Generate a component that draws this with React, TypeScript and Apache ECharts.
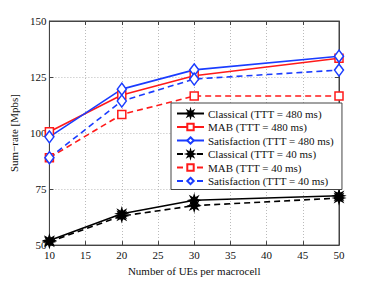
import React, { useEffect, useRef } from "react";
import * as echarts from "echarts";

const xValues = [10, 20, 30, 50];
const classical480 = [52, 64, 70, 72];
const mab480 = [100.6, 117, 125.6, 133.4];
const sat480 = [98.3, 119.6, 128.2, 134.3];
const classical40 = [51.5, 63, 67.6, 71];
const mab40 = [89, 108.3, 116.5, 116.5];
const sat40 = [89, 114.3, 124.1, 128.1];
const seriesNames = [
  "Classical (TTT = 480 ms)",
  "MAB (TTT = 480 ms)",
  "Satisfaction (TTT = 480 ms)",
  "Classical (TTT = 40 ms)",
  "MAB (TTT = 40 ms)",
  "Satisfaction (TTT = 40 ms)",
];

function starPath(): string {
  const pts: string[] = [];
  const n = 8;
  for (let i = 0; i < n * 2; i++) {
    const r = i % 2 === 0 ? 10 : 4.5;
    const a = (Math.PI * i) / n - Math.PI / 2;
    pts.push(`${(10 + r * Math.cos(a)).toFixed(2)} ${(10 + r * Math.sin(a)).toFixed(2)}`);
  }
  return "path://M" + pts.join(" L") + " Z";
}

export default function App() {
  const ref = useRef<HTMLDivElement>(null);
  useEffect(() => {
    if (!ref.current) return;
    const chart = echarts.init(ref.current, undefined, { renderer: "svg" });
    const star = starPath();
    const font = "'Liberation Serif', 'Times New Roman', serif";
    const mk = (
      name: string,
      data: number[],
      color: string,
      dashed: boolean,
      symbol: string,
      size: number | number[]
    ) => ({
      name,
      type: "line",
      data: xValues.map((x, i) => [x, data[i]]),
      symbol,
      symbolSize: size,
      showSymbol: true,
      lineStyle: { color, width: 1.6, type: dashed ? [6, 4] : "solid" },
      itemStyle: {
        color: symbol === star ? color : "#fff",
        borderColor: color,
        borderWidth: 1.5,
      },
      z: 3,
    });
    chart.setOption({
      animation: false,
      backgroundColor: "#fff",
      textStyle: { fontFamily: font },
      grid: {
        left: 49,
        right: 35,
        top: 21,
        bottom: 32,
        show: true,
        borderColor: "#444",
        borderWidth: 1,
      },
      legend: {
        data: seriesNames,
        orient: "vertical",
        left: 171,
        top: 103,
        width: 168,
        itemWidth: 27,
        itemHeight: 8,
        itemGap: 2.5,
        backgroundColor: "#fff",
        borderColor: "#444",
        borderWidth: 1,
        borderRadius: 0,
        padding: [5, 8, 3, 5],
        textStyle: { fontFamily: font, fontSize: 11, color: "#111", padding: [0, 0, 0, -1] },
      },
      xAxis: [
        {
          type: "value",
          min: 10,
          max: 50,
          interval: 5,
          name: "Number of UEs per macrocell",
          nameLocation: "middle",
          nameGap: 17,
          nameTextStyle: { fontFamily: font, fontSize: 11, color: "#111" },
          axisLine: { show: true, lineStyle: { color: "#444" } },
          axisTick: { inside: true, length: 4, lineStyle: { color: "#444" } },
          axisLabel: { fontFamily: font, fontSize: 11, color: "#111", margin: 4 },
          splitLine: { show: true, lineStyle: { color: "#bbb", type: [1, 2] } },
        },
        {
          type: "value",
          position: "top",
          min: 10,
          max: 50,
          interval: 5,
          axisLine: { show: true, lineStyle: { color: "#444" } },
          axisTick: { inside: true, length: 4, lineStyle: { color: "#444" } },
          axisLabel: { show: false },
          splitLine: { show: false },
        },
      ],
      yAxis: [
        {
          type: "value",
          min: 50,
          max: 150,
          interval: 25,
          name: "Sum\u2212rate [Mpbs]",
          nameLocation: "middle",
          nameGap: 24,
          nameTextStyle: { fontFamily: font, fontSize: 11, color: "#111" },
          axisLine: { show: true, lineStyle: { color: "#444" } },
          axisTick: { inside: true, length: 4, lineStyle: { color: "#444" } },
          axisLabel: { fontFamily: font, fontSize: 11, color: "#111", margin: 3 },
          splitLine: { show: true, lineStyle: { color: "#bbb", type: [1, 2] } },
        },
        {
          type: "value",
          position: "right",
          min: 50,
          max: 150,
          interval: 25,
          axisLine: { show: true, lineStyle: { color: "#444" } },
          axisTick: { inside: true, length: 4, lineStyle: { color: "#444" } },
          axisLabel: { show: false },
          splitLine: { show: false },
        },
      ],
      series: [
        mk(seriesNames[0], classical480, "#000", false, star, 10),
        mk(seriesNames[1], mab480, "#ff1a1a", false, "rect", 8),
        mk(seriesNames[2], sat480, "#1a3cff", false, "diamond", [9, 12]),
        mk(seriesNames[3], classical40, "#000", true, star, 10),
        mk(seriesNames[4], mab40, "#ff1a1a", true, "rect", 8),
        mk(seriesNames[5], sat40, "#1a3cff", true, "diamond", [9, 12]),
      ],
    });
    return () => chart.dispose();
  }, []);
  return (
    <div
      ref={ref}
      style={{ position: "fixed", left: 0, top: 0, width: 374, height: 281 }}
    />
  );
}
